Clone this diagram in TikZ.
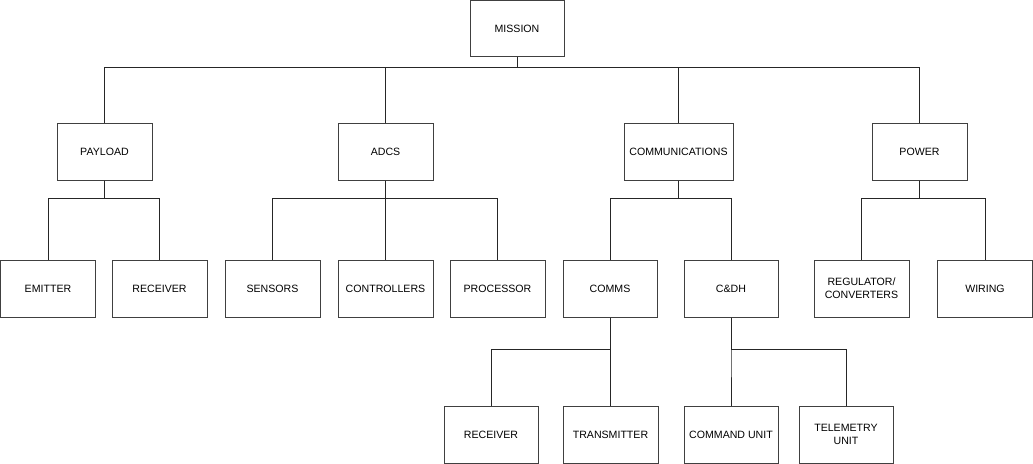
\documentclass[tikz,border=0pt]{standalone}
\usepackage{fontspec}
\setmainfont{Liberation Sans}
\begin{document}
\begin{tikzpicture}[x=1pt,y=-1pt,
  box/.style={draw=black!75,line width=1pt,minimum width=95pt,minimum height=57pt,inner sep=0pt,align=center,font=\fontsize{10.6}{13}\selectfont},
  conn/.style={draw=black!85,line width=1pt}]
\useasboundingbox (0,0) rectangle (1033,463);
% level 0
\node[box,minimum width=94pt,minimum height=56pt] (mission) at (517,28.5) {MISSION};
% level 1
\node[box] (payload) at (104.5,151.5) {PAYLOAD};
\node[box] (adcs) at (385.5,151.5) {ADCS};
\node[box,minimum width=109pt] (comm) at (678.5,151.5) {COMMUNICATIONS};
\node[box] (power) at (919.5,151.5) {POWER};
% level 2
\node[box] (emitter) at (48,288.5) {EMITTER};
\node[box] (receiver) at (159.5,288.5) {RECEIVER};
\node[box] (sensors) at (272.5,288.5) {SENSORS};
\node[box] (controllers) at (385.5,288.5) {CONTROLLERS};
\node[box] (processor) at (497.5,288.5) {PROCESSOR};
\node[box,minimum width=94pt] (comms) at (610,288.5) {COMMS};
\node[box,minimum width=94pt] (cdh) at (731,288.5) {C\&DH};
\node[box] (regulator) at (861.5,288.5) {REGULATOR/\\CONVERTERS};
\node[box] (wiring) at (985,288.5) {WIRING};
% level 3
\node[box,minimum width=94pt] (receiver2) at (491,434.5) {RECEIVER};
\node[box] (transmitter) at (610.5,434.5) {TRANSMITTER};
\node[box,minimum width=94pt] (command) at (731,434.5) {COMMAND UNIT};
\node[box,minimum width=94pt] (telemetry) at (846,434.5) {TELEMETRY\\UNIT};
% connectors
\foreach \c in {payload,adcs,comm,power}
  \draw[conn] (mission.south) -- ++(0,10) -| (\c.north);
\foreach \c in {emitter,receiver}
  \draw[conn] (payload.south) -- ++(0,18) -| (\c.north);
\foreach \c in {sensors,controllers,processor}
  \draw[conn] (adcs.south) -- ++(0,18) -| (\c.north);
\foreach \c in {comms,cdh}
  \draw[conn] (comm.south) -- ++(0,18) -| (\c.north);
\foreach \c in {regulator,wiring}
  \draw[conn] (power.south) -- ++(0,18) -| (\c.north);
\foreach \c in {receiver2,transmitter}
  \draw[conn] (comms.south) -- ++(0,32) -| (\c.north);
\foreach \c in {command,telemetry}
  \draw[conn] (cdh.south) -- ++(0,32) -| (\c.north);
\end{tikzpicture}
\end{document}
